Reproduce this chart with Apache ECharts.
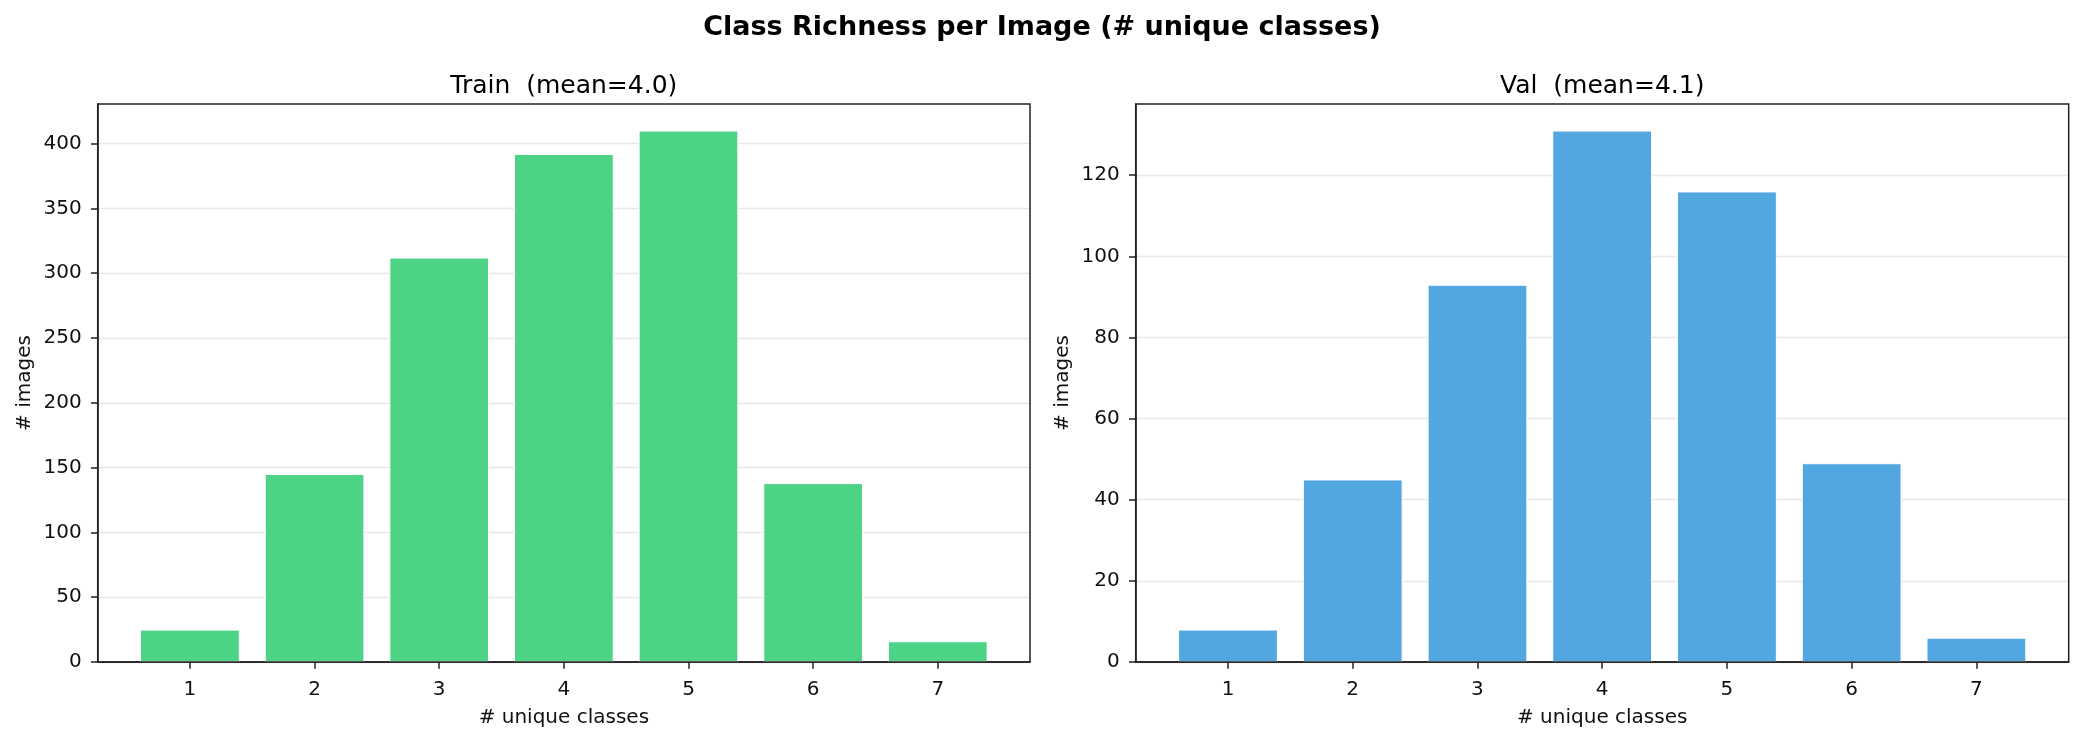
<!DOCTYPE html>
<html>
<head>
<meta charset="utf-8">
<script src="https://cdn.jsdelivr.net/npm/echarts@6/dist/echarts.min.js"></script>
<style>html,body{margin:0;padding:0;background:#fff}#c{width:2084px;height:740px}</style>
</head>
<body>
<div id="c"></div>
<script>
const categories = [1, 2, 3, 4, 5, 6, 7];
const trainCounts = [25, 145, 312, 392, 410, 138, 16];
const valCounts = [8, 45, 93, 131, 116, 49, 6];
const trainTicks = [0, 50, 100, 150, 200, 250, 300, 350, 400];
const valTicks = [0, 20, 40, 60, 80, 100, 120];
const suptitle = 'Class Richness per Image (# unique classes)';
const trainTitle = 'Train  (mean=4.0)';
const valTitle = 'Val  (mean=4.1)';

const FONT = 'DejaVu Sans';
const chart = echarts.init(document.getElementById('c'), null, {renderer: 'canvas'});

function pairs(vals) { return categories.map((c, i) => [c, vals[i]]); }

const grids = [
  {left: 97.7, top: 104, width: 932.3, height: 558},
  {left: 1135.7, top: 104, width: 933, height: 558}
];

function xAxisFor(gi, show) {
  return {
    type: 'value', gridIndex: gi, min: 0.26, max: 7.74, position: 'bottom',
    name: show ? '# unique classes' : '', nameLocation: 'middle', nameGap: 46,
    nameTextStyle: {fontFamily: FONT, fontSize: 20, color: '#111'},
    axisLine: {show: true, onZero: false, lineStyle: {color: '#222', width: 1.5}},
    axisTick: {show: true, length: 6.7, customValues: categories, lineStyle: {color: '#222', width: 1.5}},
    axisLabel: {show: true, customValues: categories, margin: 18, fontFamily: FONT, fontSize: 20, color: '#111'},
    splitLine: {show: false}
  };
}
function yAxisFor(gi, max, ticks, interval) {
  return {
    type: 'value', gridIndex: gi, min: 0, max: max, interval: interval,
    name: '# images', nameLocation: 'middle', nameGap: 63, nameRotate: 90,
    nameTextStyle: {fontFamily: FONT, fontSize: 20, color: '#111'},
    axisLine: {show: true, lineStyle: {color: '#222', width: 1.5}},
    axisTick: {show: true, length: 6.7, customValues: ticks, lineStyle: {color: '#222', width: 1.5}},
    axisLabel: {show: true, customValues: ticks, margin: 16, fontFamily: FONT, fontSize: 20, color: '#111'},
    splitLine: {show: true, lineStyle: {color: '#e8e8e8', width: 1.3}}
  };
}

const option = {
  backgroundColor: '#fff',
  animation: false,
  title: [
    {text: suptitle, left: 1042, top: 28, textAlign: 'center', textVerticalAlign: 'middle', padding: 0,
     textStyle: {fontFamily: FONT, fontSize: 27, fontWeight: 'bold', color: '#000'}},
    {text: trainTitle, left: 563.8, top: 86, textAlign: 'center', textVerticalAlign: 'middle', padding: 0,
     textStyle: {fontFamily: FONT, fontSize: 25, fontWeight: 'normal', color: '#000'}},
    {text: valTitle, left: 1602.2, top: 86, textAlign: 'center', textVerticalAlign: 'middle', padding: 0,
     textStyle: {fontFamily: FONT, fontSize: 25, fontWeight: 'normal', color: '#000'}}
  ],
  grid: grids.map(g => Object.assign({show: true, borderColor: '#222', borderWidth: 1.5, backgroundColor: 'transparent', z: 10}, g)),
  xAxis: [xAxisFor(0, true), xAxisFor(1, true)],
  yAxis: [yAxisFor(0, 430.5, trainTicks, 50), yAxisFor(1, 137.55, valTicks, 20)],
  series: [
    {type: 'bar', xAxisIndex: 0, yAxisIndex: 0, data: pairs(trainCounts), barWidth: '80%',
     itemStyle: {color: '#4dd386', borderColor: '#ffffff', borderWidth: 1}},
    {type: 'bar', xAxisIndex: 1, yAxisIndex: 1, data: pairs(valCounts), barWidth: '80%',
     itemStyle: {color: '#52a7e0', borderColor: '#ffffff', borderWidth: 1}}
  ]
};
chart.setOption(option);
</script>
</body>
</html>
